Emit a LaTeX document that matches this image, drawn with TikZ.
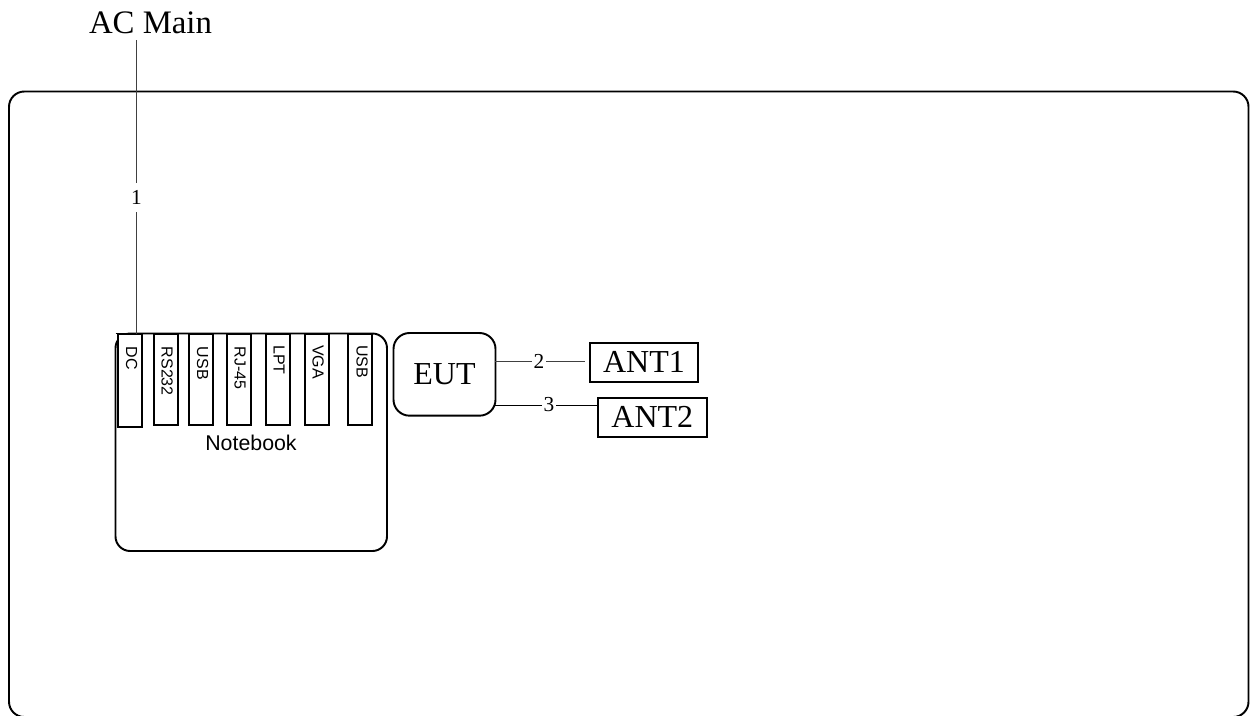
\documentclass[tikz,border=0pt]{standalone}
\usepackage{fontspec}
\setmainfont{Liberation Serif}
\newfontfamily\arialfont{Liberation Sans}
\begin{document}
\begin{tikzpicture}[x=0.75pt,y=-0.75pt,
  box/.style={draw=black,line width=1.45pt,inner sep=0pt,outer sep=0pt},
  roundbox/.style={box,rounded corners=12pt},
  portbox/.style={box,fill=white,minimum width=18pt,anchor=north west},
  portlabel/.style={font=\arialfont\fontsize{12}{12}\selectfont,rotate=-90,anchor=base west,inner sep=0pt},
  antbox/.style={box,anchor=north west,minimum height=29pt,font=\fontsize{24}{24}\selectfont},
  wire/.style={draw=black!75,line width=0.75pt},
  wirelabel/.style={font=\fontsize{16}{16}\selectfont,fill=white,inner xsep=1.2pt,inner ysep=1pt}]
\useasboundingbox (0,0) rectangle (1251,715);
\begin{scope}
\clip (0,0) rectangle (1251,715);
\draw[box,rounded corners=11.5pt] (9,91.5) rectangle (1248.5,717);
\end{scope}
\node[font=\fontsize{24.6}{25}\selectfont,inner sep=0pt,anchor=base] (ac) at (150.5,33) {AC Main};
\coordinate (acend) at (136.5,40);
% notebook
\draw[box,rounded corners=11pt] (115.5,333.5) rectangle (387,551);
\node[font=\arialfont\fontsize{16}{16}\selectfont,inner sep=0pt,anchor=base] (nb) at (251,450) {Notebook};
% ports
\node[portbox,minimum height=69.5pt] (dc) at (118,334) {};
\node[portbox,minimum height=68.5pt] (rs) at (154,334) {};
\node[portbox,minimum height=68.5pt] (usba) at (189,334) {};
\node[portbox,minimum height=68.5pt] (rj) at (227,334) {};
\node[portbox,minimum height=68.5pt] (lpt) at (266,334) {};
\node[portbox,minimum height=68.5pt] (vga) at (305,334) {};
\node[portbox,minimum height=68.5pt] (usbb) at (348,334) {};
\draw[line width=1.45pt] (115.5,333.5) -- (372,333.5);
\node[portlabel] (tdc) at (126,346.5) {DC};
\node[portlabel] (trs) at (161.5,346.5) {RS232};
\node[portlabel] (tusba) at (197,346.5) {USB};
\node[portlabel] (trj) at (234.5,346.5) {RJ-45};
\node[portlabel] (tlpt) at (273.5,345) {LPT};
\node[portlabel] (tvga) at (312.5,345) {VGA};
\node[portlabel] (tusbb) at (356.5,345) {USB};
% EUT
\node[roundbox,anchor=north west,minimum width=76.5pt,minimum height=62pt,font=\fontsize{24}{24}\selectfont] (eut) at (393.5,333) {EUT};
% antennas
\node[antbox,minimum width=81pt] (ant1) at (590,343) {ANT1};
\node[antbox,minimum width=81.5pt] (ant2) at (598,398) {ANT2};
\coordinate (ant1end) at (585,361);
% wires
\draw[wire] (acend) -- (136.5,333.5);
\node[wirelabel,minimum height=21.5pt] (n1) at (136.5,197.5) {1};
\draw[wire] (495,361) -- (ant1end);
\node[wirelabel] (n2) at (539,361) {2};
\draw[wire,draw=black] (495,405.5) -- (598,405.5);
\node[wirelabel] (n3) at (549,405) {3};
\end{tikzpicture}
\end{document}
